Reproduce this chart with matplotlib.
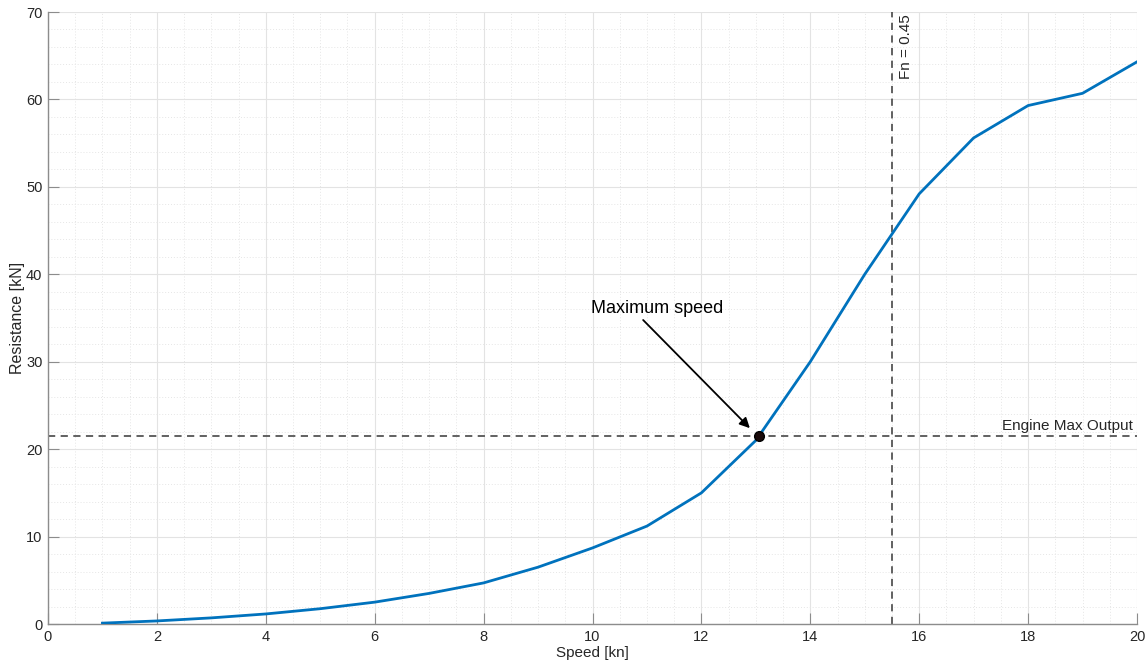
import matplotlib
matplotlib.use("Agg")
import matplotlib.pyplot as plt
from matplotlib.ticker import MultipleLocator

plt.rcParams['font.family'] = ['Liberation Sans', 'DejaVu Sans']

speed = [1, 2, 3, 4, 5, 6, 7, 8, 9, 10, 11, 12, 13, 14, 15, 16, 17, 18, 19, 20]
resistance = [0.1, 0.35, 0.7, 1.15, 1.75, 2.5, 3.5, 4.7, 6.5, 8.7, 11.2, 15.0,
              21.0, 30.0, 40.0, 49.2, 55.6, 59.3, 60.7, 64.3]
max_speed = 13.06
engine_max = 21.5
fn_speed = 15.5

fig = plt.figure(figsize=(11.46, 6.68), dpi=100)
ax = fig.add_axes([48/1146, 1-624/668, (1137-48)/1146, (624-12)/668])

ax.plot(speed, resistance, color='#0072BD', lw=2.0, zorder=3)
ax.axhline(engine_max, color='#555555', ls=(0, (4, 3)), lw=1.3, zorder=2)
ax.axvline(fn_speed, color='#555555', ls=(0, (4, 3)), lw=1.3, zorder=2)
ax.plot([max_speed], [engine_max], 'o', color='black', ms=7, zorder=4,
        markerfacecolor='#1a0a0a')

ax.text(9.97, 36.1, 'Maximum speed', fontsize=13, color='black',
        ha='left', va='center')
ax.annotate('', xy=(12.89, 22.4), xytext=(10.93, 34.77),
            arrowprops=dict(arrowstyle='-|>', color='black', lw=1.3,
                            mutation_scale=15, shrinkA=0, shrinkB=0))
ax.text(19.93, engine_max + 0.3, 'Engine Max Output', ha='right', va='bottom',
        fontsize=11, color='#262626')
ax.text(fn_speed + 0.12, 69.7, 'Fn = 0.45', rotation=90, ha='left', va='top',
        fontsize=11, color='#262626')

ax.set_xlim(0, 20)
ax.set_ylim(0, 70)
ax.xaxis.set_major_locator(MultipleLocator(2))
ax.xaxis.set_minor_locator(MultipleLocator(0.5))
ax.yaxis.set_major_locator(MultipleLocator(10))
ax.yaxis.set_minor_locator(MultipleLocator(2))

ax.grid(True, which='major', color='#e3e3e3', lw=0.8, zorder=0)
ax.grid(True, which='minor', color='#e6e6e6', lw=0.7, ls=(0, (1, 2)), zorder=0)
ax.set_axisbelow(True)

for s in ['top', 'right']:
    ax.spines[s].set_visible(False)
for s in ['left', 'bottom']:
    ax.spines[s].set_color('#8c8c8c')
    ax.spines[s].set_linewidth(1.0)

ax.tick_params(which='major', direction='in', length=8, width=0.8,
               color='#8c8c8c', labelsize=10.5, labelcolor='#262626', pad=4)
ax.tick_params(which='minor', length=0)

ax.set_xlabel('Speed [kn]', fontsize=11, color='#262626', labelpad=2)
ax.set_ylabel('Resistance [kN]', fontsize=11.5, color='#262626')
ax.yaxis.set_label_coords((25 - 48) / 1089, 0.5)

fig.savefig('out.png', dpi=100)
